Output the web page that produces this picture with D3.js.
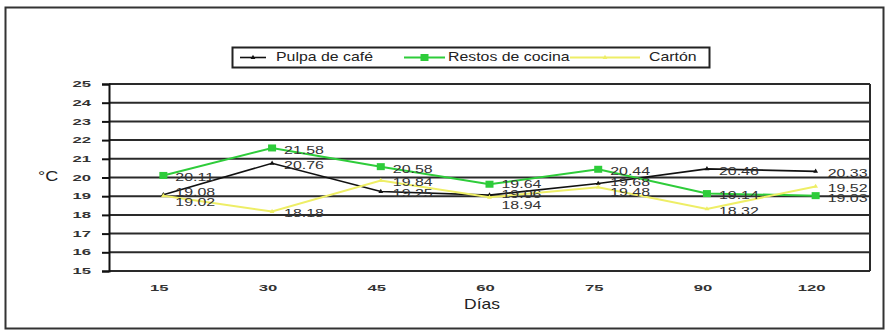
<!DOCTYPE html>
<html>
<head>
<meta charset="utf-8">
<script src="https://cdn.jsdelivr.net/npm/d3@7"></script>
<style>
  html, body { margin: 0; padding: 0; background: #fff; }
  svg { display: block; font-family: Arial, "Liberation Sans", sans-serif; }
</style>
</head>
<body>
<svg id="chart" width="890" height="333"></svg>
<script>
// Days of composting (x categories)
const dias = ["15", "30", "45", "60", "75", "90", "120"];
// Temperature (°C) per substrate
const pulpaCafe = [19.08, 20.76, 19.25, 19.06, 19.68, 20.46, 20.33];
const restosCocina = [20.11, 21.58, 20.58, 19.64, 20.44, 19.14, 19.03];
const carton = [19.02, 18.18, 19.84, 18.94, 19.48, 18.32, 19.52];
// Y axis ticks
const yTicks = [15, 16, 17, 18, 19, 20, 21, 22, 23, 24, 25];

const series = [
  { name: "Pulpa de café", values: pulpaCafe, color: "#111111", width: 1.6, marker: "tri" },
  { name: "Restos de cocina", values: restosCocina, color: "#2ecc3a", width: 2, marker: "square" },
  { name: "Cartón", values: carton, color: "#eeee66", width: 2, marker: "tri" }
];

const svg = d3.select("#chart");
const plot = { left: 109, right: 870, top: 84, bottom: 271 };

const x = d3.scalePoint().domain(dias).range([plot.left, plot.right]).padding(0.5);
const y = d3.scaleLinear().domain([15, 25]).range([plot.bottom, plot.top]);

// Horizontally stretched text helper
function stretched(g, txt, px, py, sx, opts) {
  return g.append("text")
    .attr("transform", `translate(${px},${py}) scale(${sx},1)`)
    .attr("font-size", opts.size)
    .attr("fill", opts.fill || "#222")
    .attr("font-weight", opts.weight || "normal")
    .attr("text-anchor", opts.anchor || "start")
    .attr("dy", opts.dy || "0.35em")
    .text(txt);
}

// Outer frame
svg.append("rect")
  .attr("x", 5.5).attr("y", 7.5).attr("width", 878).attr("height", 321)
  .attr("fill", "none").attr("stroke", "#333").attr("stroke-width", 2);

// Gridlines
svg.append("g").selectAll("line").data(yTicks).join("line")
  .attr("x1", plot.left).attr("x2", plot.right)
  .attr("y1", d => y(d)).attr("y2", d => y(d))
  .attr("stroke", "#2a2a2a").attr("stroke-width", 2);

// Right border of plot area
svg.append("line")
  .attr("x1", plot.right).attr("x2", plot.right)
  .attr("y1", plot.top).attr("y2", plot.bottom)
  .attr("stroke", "#2a2a2a").attr("stroke-width", 2);

// Y axis
const yAxis = d3.axisLeft(y).tickValues(yTicks).tickSize(7).tickFormat("");
const yg = svg.append("g").attr("transform", `translate(${plot.left},0)`).call(yAxis);
yg.select(".domain").attr("stroke", "#111").attr("stroke-width", 2);
yg.selectAll(".tick line").attr("stroke", "#111").attr("stroke-width", 2);
yTicks.forEach(v => stretched(svg, String(v), 91, y(v), 1.85, { size: 9, weight: "bold", anchor: "end", fill: "#333" }));

// X axis labels
const xAxis = d3.axisBottom(x).tickSize(0).tickFormat("");
const xg = svg.append("g").attr("transform", `translate(0,${plot.bottom})`).call(xAxis);
xg.select(".domain").remove();
dias.forEach(d => stretched(svg, d, x(d) - 4, 288, 1.85, { size: 9, weight: "bold", anchor: "middle", fill: "#333" }));

// Axis titles
stretched(svg, "Días", 482, 304, 1.25, { size: 14, anchor: "middle", fill: "#222" });
stretched(svg, "°C", 38, 176, 1.2, { size: 15, anchor: "start", fill: "#222" });

// Lines and markers
const line = d3.line().x((d, i) => x(dias[i])).y(d => y(d));
const tri = d3.symbol().type(d3.symbolTriangle).size(10);

series.forEach(s => {
  const g = svg.append("g");
  g.append("path").datum(s.values)
    .attr("d", line).attr("fill", "none")
    .attr("stroke", s.color).attr("stroke-width", s.width);
  if (s.marker === "square") {
    g.selectAll("rect").data(s.values).join("rect")
      .attr("x", (d, i) => x(dias[i]) - 4).attr("y", d => y(d) - 3.5)
      .attr("width", 8).attr("height", 7).attr("fill", s.color);
  } else {
    g.selectAll("path.m").data(s.values).join("path").attr("class", "m")
      .attr("d", tri)
      .attr("transform", (d, i) => `translate(${x(dias[i])},${y(d)})`)
      .attr("fill", s.color);
  }
});

// Value labels: placed right of each point; labels within the same day
// are spread so that they keep a minimum vertical spacing.
const minGap = 10.5;
dias.forEach((d, i) => {
  const labs = series.map(s => ({ v: s.values[i], py: y(s.values[i]) + 2 }));
  labs.sort((a, b) => a.py - b.py);
  for (let iter = 0; iter < 20; iter++) {
    let moved = false;
    for (let k = 1; k < labs.length; k++) {
      const gap = labs[k].py - labs[k - 1].py;
      if (gap < minGap - 0.01) {
        const push = (minGap - gap) / 2;
        labs[k - 1].py -= push;
        labs[k].py += push;
        moved = true;
      }
    }
    if (!moved) break;
  }
  labs.forEach(l => stretched(svg, l.v.toFixed(2), x(d) + 12, l.py, 1.45, { size: 11, anchor: "start", fill: "#333" }));
});

// Legend
const lg = svg.append("g");
lg.append("rect").attr("x", 232.5).attr("y", 47.5).attr("width", 477).attr("height", 20)
  .attr("fill", "#fff").attr("stroke", "#222").attr("stroke-width", 2);
const legendPos = [
  { lx1: 240, lx2: 266, tx: 276 },
  { lx1: 404, lx2: 445, tx: 448 },
  { lx1: 570, lx2: 640, tx: 649 }
];
series.forEach((s, k) => {
  const p = legendPos[k];
  const ly = 57.5;
  lg.append("line").attr("x1", p.lx1).attr("x2", p.lx2).attr("y1", ly).attr("y2", ly)
    .attr("stroke", s.color).attr("stroke-width", s.width);
  const cx = (p.lx1 + p.lx2) / 2;
  if (s.marker === "square") {
    lg.append("rect").attr("x", cx - 4).attr("y", ly - 3.5).attr("width", 8).attr("height", 7).attr("fill", s.color);
  } else {
    lg.append("path").attr("d", tri).attr("transform", `translate(${cx},${ly})`).attr("fill", s.color);
  }
  stretched(lg, s.name, p.tx, ly - 1, 1.22, { size: 13, anchor: "start", fill: "#222" });
});
</script>
</body>
</html>
